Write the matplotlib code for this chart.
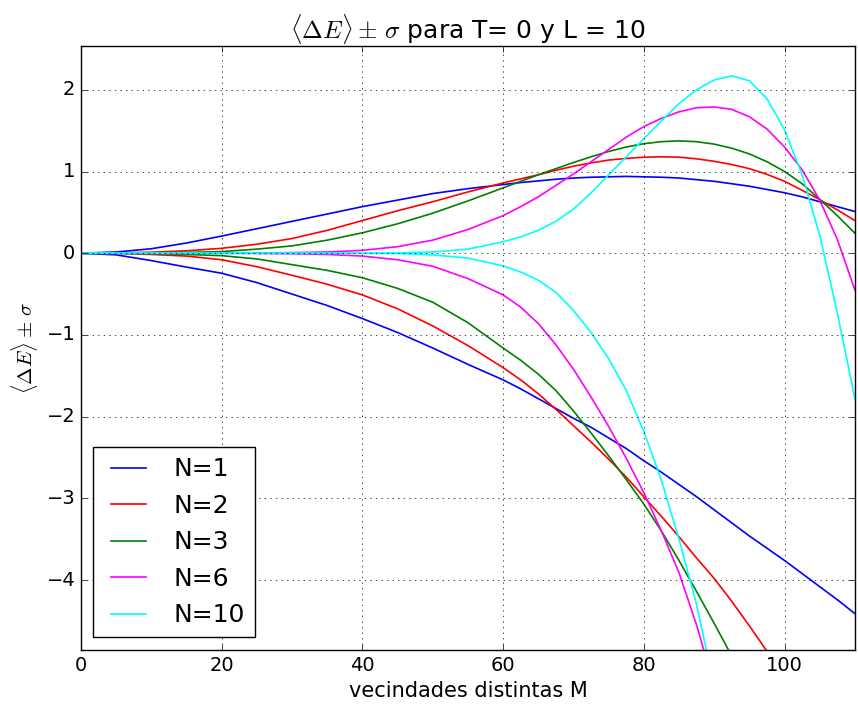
import matplotlib
matplotlib.use("Agg")
import matplotlib.pyplot as plt
import numpy as np

# Datos: <dE> + sigma (sup) y <dE> - sigma (inf)
M = [0, 5, 10, 15, 20, 25, 30, 35, 40, 45, 50, 55, 60,
     62.5, 65, 67.5, 70, 72.5, 75, 77.5, 80, 82.5, 85, 87.5, 90,
     92.5, 95, 97.5, 100, 102.5, 105, 107.5, 110]

sup_N1 = [0, 0.015, 0.055, 0.125, 0.21, 0.30, 0.39, 0.48, 0.57, 0.65, 0.73, 0.79, 0.84,
          0.865, 0.885, 0.905, 0.92, 0.93, 0.935, 0.94, 0.935, 0.93, 0.92, 0.90, 0.88,
          0.85, 0.82, 0.78, 0.74, 0.69, 0.63, 0.57, 0.51]
inf_N1 = [0, -0.02, -0.09, -0.17, -0.245, -0.36, -0.50, -0.64, -0.80, -0.97, -1.16, -1.36, -1.55,
          -1.66, -1.78, -1.90, -2.02, -2.13, -2.26, -2.39, -2.54, -2.68, -2.83, -2.98, -3.14,
          -3.30, -3.46, -3.61, -3.76, -3.92, -4.08, -4.24, -4.41]

sup_N2 = [0, 0.003, 0.012, 0.03, 0.06, 0.11, 0.18, 0.28, 0.40, 0.52, 0.63, 0.75, 0.86,
          0.91, 0.96, 1.015, 1.065, 1.105, 1.14, 1.16, 1.175, 1.18, 1.175, 1.155, 1.125,
          1.085, 1.035, 0.965, 0.88, 0.77, 0.655, 0.53, 0.40]
inf_N2 = [0, -0.003, -0.015, -0.035, -0.08, -0.165, -0.27, -0.38, -0.51, -0.68, -0.89, -1.13, -1.40,
          -1.55, -1.72, -1.91, -2.11, -2.31, -2.52, -2.74, -2.98, -3.22, -3.47, -3.73, -3.98,
          -4.26, -4.56, -4.87, -5.2, None, None, None, None]

sup_N3 = [0, 0.001, 0.004, 0.01, 0.02, 0.05, 0.09, 0.16, 0.25, 0.36, 0.49, 0.64, 0.80,
          0.88, 0.96, 1.035, 1.11, 1.18, 1.245, 1.30, 1.34, 1.365, 1.375, 1.365, 1.335,
          1.285, 1.215, 1.12, 1.00, 0.85, 0.66, 0.46, 0.245]
inf_N3 = [0, 0, -0.005, -0.015, -0.03, -0.07, -0.14, -0.21, -0.30, -0.43, -0.60, -0.85, -1.16,
          -1.31, -1.48, -1.68, -1.93, -2.20, -2.48, -2.77, -3.07, -3.40, -3.76, -4.14, -4.53,
          -4.93, -5.35, None, None, None, None, None, None]

sup_N6 = [0, 0, 0, 0, 0.001, 0.003, 0.007, 0.015, 0.035, 0.08, 0.16, 0.29, 0.46,
          0.57, 0.69, 0.83, 0.97, 1.12, 1.27, 1.42, 1.55, 1.65, 1.73, 1.78, 1.79,
          1.76, 1.67, 1.52, 1.30, 1.02, 0.65, 0.17, -0.45]
inf_N6 = [0, 0, 0, 0, -0.001, -0.003, -0.007, -0.015, -0.035, -0.08, -0.16, -0.31, -0.51,
          -0.66, -0.86, -1.12, -1.42, -1.76, -2.12, -2.51, -2.93, -3.40, -3.91, -4.55, -5.3,
          None, None, None, None, None, None, None, None]

sup_N10 = [0, 0, 0, 0, 0, 0, 0, 0, 0.001, 0.003, 0.015, 0.05, 0.14,
           0.20, 0.28, 0.39, 0.54, 0.74, 0.96, 1.18, 1.40, 1.62, 1.83, 2.00, 2.12,
           2.17, 2.11, 1.89, 1.51, 0.96, 0.22, -0.73, -1.78]
inf_N10 = [0, 0, 0, 0, 0, 0, 0, 0, -0.001, -0.003, -0.02, -0.06, -0.155,
           -0.23, -0.33, -0.48, -0.70, -0.97, -1.29, -1.68, -2.18, -2.78, -3.50, -4.30, -5.3,
           None, None, None, None, None, None, None, None]

N_values = [1, 2, 3, 6, 10]
colores = ['#0000ff', '#ff0000', '#008000', '#ff00ff', '#00ffff']
superiores = [sup_N1, sup_N2, sup_N3, sup_N6, sup_N10]
inferiores = [inf_N1, inf_N2, inf_N3, inf_N6, inf_N10]

# Plot
plt.style.use('classic')
fig = plt.figure(figsize=(8.58, 7.11), dpi=100, facecolor='white')
ax = fig.add_axes([0.0944, 0.0858, 0.9020, 0.8500])

for N, c, sup, inf in zip(N_values, colores, superiores, inferiores):
    ax.plot(M, np.array(sup, dtype=float), color=c, lw=1.2, label="N={}".format(N))
    ax.plot(M, np.array(inf, dtype=float), color=c, lw=1.2)

ax.set_xlim(0, 110)
ax.set_ylim(-4.855, 2.54)
ax.set_xticks([0, 20, 40, 60, 80, 100])
ax.set_yticks([-4, -3, -2, -1, 0, 1, 2])
ax.tick_params(labelsize=14)
ax.grid(True)
ax.set_title(r"$\langle \Delta E \rangle \pm\, \sigma$ para T= 0 y L = 10", fontsize=18)
ax.set_xlabel("vecindades distintas M", fontsize=15)
ax.set_ylabel(r"$\langle \Delta E \rangle \pm\, \sigma$", fontsize=15)
ax.legend(loc='lower left', fontsize=18)

plt.savefig("out.png", dpi=100, facecolor='white')
